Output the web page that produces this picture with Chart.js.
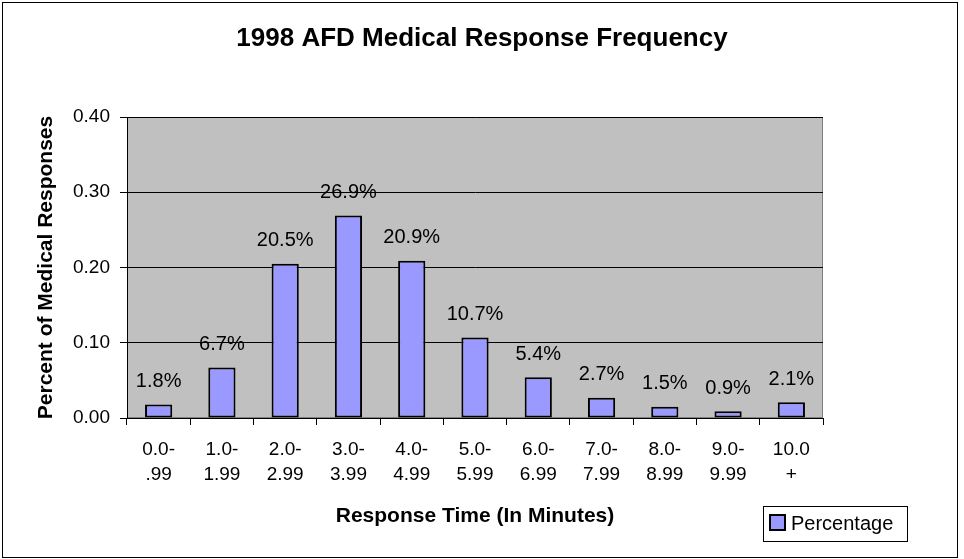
<!DOCTYPE html>
<html>
<head>
<meta charset="utf-8">
<script src="https://cdn.jsdelivr.net/npm/chart.js@4/dist/chart.umd.min.js"></script>
<style>
html,body{margin:0;padding:0;background:#fff;}
canvas{display:block;}
</style>
</head>
<body>
<canvas id="c" width="964" height="559"></canvas>
<script>
const chartTitle = '1998 AFD Medical Response Frequency';
const categories = [
  ['0.0-', '.99'], ['1.0-', '1.99'], ['2.0-', '2.99'], ['3.0-', '3.99'],
  ['4.0-', '4.99'], ['5.0-', '5.99'], ['6.0-', '6.99'], ['7.0-', '7.99'],
  ['8.0-', '8.99'], ['9.0-', '9.99'], ['10.0', '+']
];
const percentages = [0.018, 0.067, 0.205, 0.269, 0.209, 0.107, 0.054, 0.027, 0.015, 0.009, 0.021];
const seriesName = 'Percentage';
const yTicks = [0, 0.1, 0.2, 0.3, 0.4];
const xTitle = 'Response Time (In Minutes)';
const yTitle = 'Percent of Medical Responses';

const FONT = '"Liberation Sans", Arial, sans-serif';
const BAR_FILL = '#9999FF';

const decor = {
  id: 'decor',
  beforeDraw(chart) {
    const {ctx, chartArea: a} = chart;
    ctx.save();
    ctx.fillStyle = '#fff';
    ctx.fillRect(0, 0, chart.width, chart.height);
    ctx.fillStyle = '#C0C0C0';
    ctx.fillRect(a.left, a.top, a.right - a.left, a.bottom - a.top);
    ctx.strokeStyle = '#808080';
    ctx.lineWidth = 1;
    ctx.strokeRect(a.left + 0.5, a.top + 0.5, a.right - a.left - 1, a.bottom - a.top - 1);
    ctx.restore();
  },
  afterDatasetsDraw(chart) {
    const {ctx} = chart;
    const meta = chart.getDatasetMeta(0);
    ctx.save();
    ctx.font = '20px ' + FONT;
    ctx.fillStyle = '#000';
    ctx.textAlign = 'center';
    ctx.textBaseline = 'middle';
    meta.data.forEach((bar, i) => {
      const v = chart.data.datasets[0].data[i];
      ctx.fillText((v * 100).toFixed(1) + '%', bar.x, bar.y - 23);
    });
    ctx.restore();
  },
  afterDraw(chart) {
    const {ctx} = chart;
    ctx.save();
    // chart title
    ctx.fillStyle = '#000';
    ctx.font = 'bold 26px ' + FONT;
    ctx.textAlign = 'center';
    ctx.textBaseline = 'middle';
    ctx.fillText(chartTitle, 482, 39);
    // outer border
    ctx.strokeStyle = '#000';
    ctx.lineWidth = 1;
    ctx.strokeRect(2.5, 2.5, 955, 555);
    // legend
    const lx = 763, ly = 506, lw = 144, lh = 35;
    ctx.fillStyle = '#fff';
    ctx.fillRect(lx, ly, lw, lh);
    ctx.strokeStyle = '#000';
    ctx.lineWidth = 1;
    ctx.strokeRect(lx + 0.5, ly + 0.5, lw, lh);
    ctx.fillStyle = BAR_FILL;
    ctx.fillRect(770, 515, 15, 15);
    ctx.lineWidth = 2;
    ctx.strokeRect(770, 515, 15, 15);
    ctx.fillStyle = '#000';
    ctx.font = '20px ' + FONT;
    ctx.textAlign = 'left';
    ctx.textBaseline = 'middle';
    ctx.fillText(seriesName, 791, 524);
    ctx.restore();
  }
};

new Chart(document.getElementById('c'), {
  type: 'bar',
  data: {
    labels: categories,
    datasets: [{
      label: seriesName,
      data: percentages,
      backgroundColor: BAR_FILL,
      borderColor: '#000',
      borderWidth: 2,
      borderSkipped: false,
      barPercentage: 0.43,
      categoryPercentage: 1.0
    }]
  },
  options: {
    responsive: false,
    animation: false,
    devicePixelRatio: 1,
    layout: {padding: {left: 0, right: 141, top: 117, bottom: 0}},
    plugins: {
      legend: {display: false},
      tooltip: {enabled: false},
      title: {display: false}
    },
    scales: {
      x: {
        offset: true,
        afterFit(scale) { scale.height = 141; },
        border: {display: true, color: '#000', width: 1},
        grid: {display: true, offset: true, drawOnChartArea: false, drawTicks: true, tickLength: 7, color: '#000'},
        ticks: {color: '#000', font: {family: FONT, size: 19, lineHeight: 1.316}, padding: 12, maxRotation: 0, autoSkip: false},
        title: {display: true, text: xTitle, color: '#000', font: {family: FONT, size: 21, weight: 'bold', lineHeight: 1.2}, padding: {top: 0, bottom: 30}}
      },
      y: {
        min: 0,
        max: 0.4,
        afterFit(scale) { scale.width = 127; },
        afterBuildTicks(scale) { scale.ticks = yTicks.map(v => ({value: v})); },
        border: {display: true, color: '#000', width: 1},
        grid: {display: true, drawOnChartArea: true, drawTicks: true, tickLength: 7, color: '#000'},
        ticks: {color: '#000', font: {family: FONT, size: 19}, padding: 10, callback: v => v.toFixed(2)},
        title: {display: true, text: yTitle, color: '#000', font: {family: FONT, size: 21, weight: 'bold', lineHeight: 1.2}, padding: {top: 34, bottom: 0}}
      }
    }
  },
  plugins: [decor]
});
</script>
</body>
</html>
